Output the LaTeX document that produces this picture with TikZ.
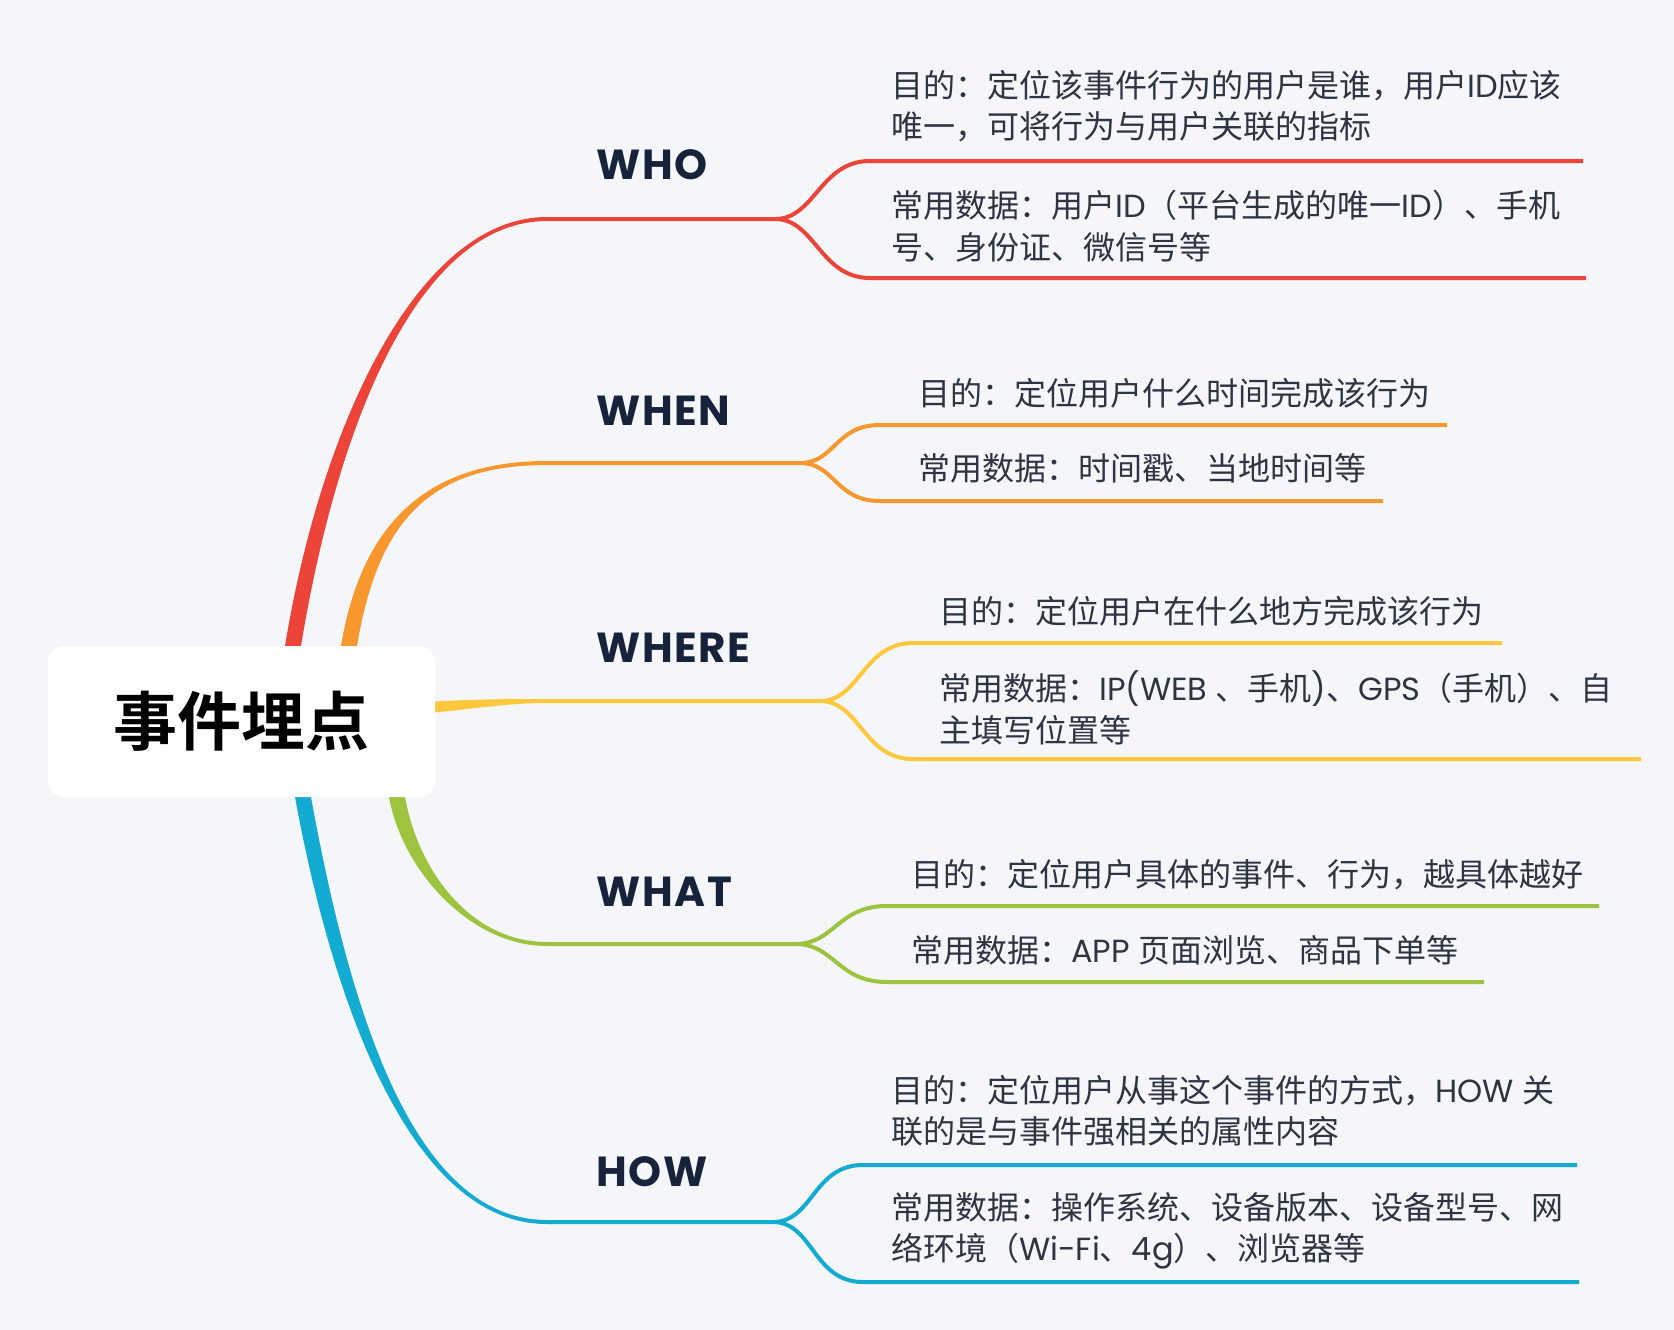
\documentclass[tikz,border=0pt]{standalone}
\usepackage{fontspec}
\setmainfont{Noto Sans CJK SC}[BoldFont={Noto Sans CJK SC Bold}]
\newfontfamily\latfont{Poppins}
\newfontfamily\topicfont{Poppins}[LetterSpace=4]
\usetikzlibrary{calc}
\definecolor{bgcol}{RGB}{245,246,250}
\definecolor{navy}{RGB}{23,35,59}
\definecolor{ink}{RGB}{45,52,66}
\definecolor{whocol}{RGB}{236,68,57}
\definecolor{whencol}{RGB}{247,151,46}
\definecolor{wherecol}{RGB}{253,200,59}
\definecolor{whatcol}{RGB}{157,195,63}
\definecolor{howcol}{RGB}{19,171,210}

\begin{document}
\begin{tikzpicture}[x=1pt,y=-1pt]
	\tikzstyle{root}=[rectangle, fill=white, rounded corners=16pt,
	minimum width=387pt, minimum height=151pt,
	font=\bfseries\fontsize{64}{64}\selectfont]
	\tikzstyle{topic}=[anchor=west, inner sep=0pt, text=navy,
	font=\topicfont\bfseries\fontsize{42}{42}\selectfont]
	\tikzstyle{leaf}=[anchor=west, inner sep=0pt, align=left, text=ink,
	font=\fontsize{32}{41.5}\selectfont]
	\tikzstyle{fork}=[line width=4pt]
	
	\fill[bgcol] (0,0) rectangle (1674,1330);
	
	% branch points
	\coordinate (who-s) at (293,646);
	\coordinate (when-s) at (349,646);
	\coordinate (where-s) at (435,707);
	\coordinate (what-s) at (397,797);
	\coordinate (how-s) at (303,797);
	\coordinate (who) at (547,219);
	\coordinate (when) at (547,463);
	\coordinate (where) at (547,701);
	\coordinate (what) at (547,944);
	\coordinate (how) at (547,1222);
	
	\fill[whocol] ($(who-s)+(-8,0)$) .. controls (322,420) and (420,217) .. ($(who)+(0,-2)$)
	-- ($(who)+(0,2)$) .. controls (420,221) and (338,420) .. ($(who-s)+(8,0)$) -- cycle;
	\fill[whencol] ($(when-s)+(-8,0)$) .. controls (362,520) and (430,461) .. ($(when)+(0,-2)$)
	-- ($(when)+(0,2)$) .. controls (430,465) and (378,520) .. ($(when-s)+(8,0)$) -- cycle;
	\fill[wherecol] ($(where-s)+(0,-5.5)$) .. controls (480,699) and (510,699) .. ($(where)+(0,-2)$)
	-- ($(where)+(0,2)$) .. controls (510,703) and (480,708) .. ($(where-s)+(0,5.5)$) -- cycle;
	\fill[whatcol] ($(what-s)+(-8,0)$) .. controls (402,870) and (470,946) .. ($(what)+(0,2)$)
	-- ($(what)+(0,-2)$) .. controls (470,942) and (418,870) .. ($(what-s)+(8,0)$) -- cycle;
	\fill[howcol] ($(how-s)+(-8,0)$) .. controls (332,1000) and (410,1224) .. ($(how)+(0,2)$)
	-- ($(how)+(0,-2)$) .. controls (410,1220) and (348,1000) .. ($(how-s)+(8,0)$) -- cycle;
	
	\node[root] at (241.5,721.5) (root) {事件埋点};
	
	\node[topic] at (596,165) (who-t) {WHO};
	\node[topic] at (596,411) (when-t) {WHEN};
	\node[topic] at (596,648) (where-t) {WHERE};
	\node[topic] at (596,892) (what-t) {WHAT};
	\node[topic] at (596,1172) (how-t) {HOW};
	
	\node[leaf] at (891,106) (who-aim) {目的：定位该事件行为的用户是谁，用户{\latfont ID}应该\\唯一，可将行为与用户关联的指标};
	\node[leaf] at (891,226) (who-data) {常用数据：用户{\latfont ID}（平台生成的唯一{\latfont ID}）、手机\\号、身份证、微信号等};
	\node[leaf] at (918,393) (when-aim) {目的：定位用户什么时间完成该行为};
	\node[leaf] at (918,468) (when-data) {常用数据：时间戳、当地时间等};
	\node[leaf] at (939,611) (where-aim) {目的：定位用户在什么地方完成该行为};
	\node[leaf] at (939,708) (where-data) {常用数据：{\latfont IP(WEB }、手机{\latfont )}、{\latfont GPS}（手机）、自\\主填写位置等};
	\node[leaf] at (911,875) (what-aim) {目的：定位用户具体的事件、行为，越具体越好};
	\node[leaf] at (911,950) (what-data) {常用数据：{\latfont APP }页面浏览、商品下单等};
	\node[leaf] at (891,1111) (how-aim) {目的：定位用户从事这个事件的方式，{\latfont HOW }关\\联的是与事件强相关的属性内容};
	\node[leaf] at (891,1231) (how-data) {常用数据：操作系统、设备版本、设备型号、网\\络环境（{\latfont Wi-Fi}、{\latfont 4g}）、浏览器等};
	
	% forks
	\coordinate (who-j) at (775,219);
	\coordinate (who-a) at (870,161);
	\coordinate (who-a-e) at (1583,161);
	\coordinate (who-b) at (870,278);
	\coordinate (who-b-e) at (1586,278);
	\coordinate (when-j) at (800,463);
	\coordinate (when-a) at (880,425);
	\coordinate (when-a-e) at (1447,425);
	\coordinate (when-b) at (880,501);
	\coordinate (when-b-e) at (1383,501);
	\coordinate (where-j) at (820,701);
	\coordinate (where-a) at (913,643);
	\coordinate (where-a-e) at (1502,643);
	\coordinate (where-b) at (913,759);
	\coordinate (where-b-e) at (1641,759);
	\coordinate (what-j) at (795,944);
	\coordinate (what-a) at (887,906);
	\coordinate (what-a-e) at (1599,906);
	\coordinate (what-b) at (887,982);
	\coordinate (what-b-e) at (1484,982);
	\coordinate (how-j) at (773,1222);
	\coordinate (how-a) at (863,1165);
	\coordinate (how-a-e) at (1577,1165);
	\coordinate (how-b) at (863,1282);
	\coordinate (how-b-e) at (1579,1282);
	
	\draw[fork, whocol] (who) -- (who-j) .. controls +(40,0) and +(-50,0) .. (who-a) -- (who-a-e);
	\draw[fork, whocol] (who-j) .. controls +(40,0) and +(-50,0) .. (who-b) -- (who-b-e);
	\draw[fork, whencol] (when) -- (when-j) .. controls +(35,0) and +(-45,0) .. (when-a) -- (when-a-e);
	\draw[fork, whencol] (when-j) .. controls +(35,0) and +(-45,0) .. (when-b) -- (when-b-e);
	\draw[fork, wherecol] (where) -- (where-j) .. controls +(40,0) and +(-50,0) .. (where-a) -- (where-a-e);
	\draw[fork, wherecol] (where-j) .. controls +(40,0) and +(-50,0) .. (where-b) -- (where-b-e);
	\draw[fork, whatcol] (what) -- (what-j) .. controls +(40,0) and +(-50,0) .. (what-a) -- (what-a-e);
	\draw[fork, whatcol] (what-j) .. controls +(40,0) and +(-50,0) .. (what-b) -- (what-b-e);
	\draw[fork, howcol] (how) -- (how-j) .. controls +(40,0) and +(-50,0) .. (how-a) -- (how-a-e);
	\draw[fork, howcol] (how-j) .. controls +(40,0) and +(-50,0) .. (how-b) -- (how-b-e);
	
\end{tikzpicture}
\end{document}
